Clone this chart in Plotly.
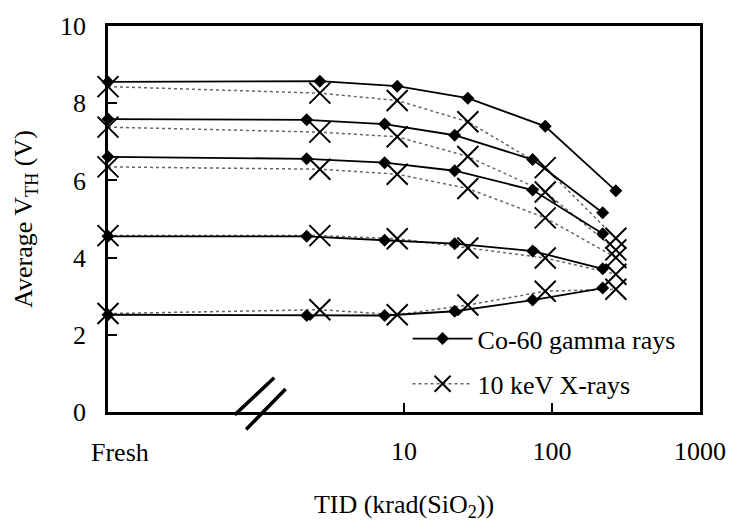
import math
import plotly.graph_objects as go

# ---------------- data ----------------
fresh_dose = 0.1  # "Fresh" plotted at the left edge of the log axis
co60_dose_s1 = [2.7, 9, 27, 90, 270]
co60_dose = [2.2, 7.4, 22, 74, 220]
xray_dose = [2.7, 9, 27, 90, 270]

co60_s1 = [8.55, 8.57, 8.44, 8.13, 7.40, 5.73]
co60_s2 = [7.59, 7.57, 7.46, 7.17, 6.54, 5.16]
co60_s3 = [6.61, 6.56, 6.46, 6.25, 5.75, 4.62]
co60_s4 = [4.55, 4.55, 4.45, 4.36, 4.17, 3.71]
co60_s5 = [2.52, 2.50, 2.50, 2.61, 2.90, 3.21]

xray_s1 = [8.43, 8.26, 8.07, 7.52, 6.33, 4.50]
xray_s2 = [7.38, 7.25, 7.13, 6.62, 5.70, 4.20]
xray_s3 = [6.35, 6.29, 6.16, 5.79, 5.03, 4.00]
xray_s4 = [4.57, 4.57, 4.49, 4.25, 3.99, 3.57]
xray_s5 = [2.55, 2.65, 2.52, 2.77, 3.13, 3.18]

x_ticks = [10, 100, 1000]
x_ticktext = ["10", "100", "1000"]
y_ticks = [0, 2, 4, 6, 8, 10]

legend_co60 = "Co-60 gamma rays"
legend_xray = "10 keV X-rays"

FONT = "Liberation Serif, Times New Roman, DejaVu Serif, serif"

fig = go.Figure()

co60_sets = [(co60_dose_s1, co60_s1), (co60_dose, co60_s2), (co60_dose, co60_s3),
             (co60_dose, co60_s4), (co60_dose, co60_s5)]
xray_sets = [xray_s1, xray_s2, xray_s3, xray_s4, xray_s5]

for i, ys in enumerate(xray_sets):
    fig.add_trace(go.Scatter(
        x=[fresh_dose] + xray_dose, y=ys, mode="lines+markers",
        name=legend_xray, legend="legend2", legendgroup="xray", showlegend=(i == 0),
        line=dict(color="#666666", width=1.5, dash="dot"),
        marker=dict(symbol="x-thin-open", size=21, color="black",
                    line=dict(color="black", width=2)),
        cliponaxis=False,
    ))

for i, (dx, ys) in enumerate(co60_sets):
    fig.add_trace(go.Scatter(
        x=[fresh_dose] + dx, y=ys, mode="lines+markers",
        name=legend_co60, legend="legend", legendgroup="co60", showlegend=(i == 0),
        line=dict(color="black", width=1.8),
        marker=dict(symbol="diamond", size=10, color="black"),
        cliponaxis=False,
    ))

fig.update_xaxes(
    type="log", range=[math.log10(fresh_dose), 3],
    tickvals=x_ticks, ticktext=x_ticktext,
    ticks="inside", ticklen=9, tickwidth=2, tickcolor="black",
    showline=True, linewidth=2.5, linecolor="black", mirror=True,
    showgrid=False, zeroline=False, ticklabelstandoff=14,
    tickfont=dict(family=FONT, size=26, color="black"),
    title=dict(text="TID (krad(SiO<sub>2</sub>))", standoff=30,
               font=dict(family=FONT, size=26, color="black")),
)
fig.update_yaxes(
    range=[0, 10], tickvals=y_ticks,
    ticks="inside", ticklen=9, tickwidth=2, tickcolor="black",
    showline=True, linewidth=2.5, linecolor="black", mirror=True,
    showgrid=False, zeroline=False, ticklabelstandoff=14,
    tickfont=dict(family=FONT, size=26, color="black"),
    title=dict(text="Average V<sub>TH</sub> (V)", standoff=20,
               font=dict(family=FONT, size=26, color="black")),
)

# "Fresh" category label under the left edge
fig.add_annotation(text="Fresh", x=math.log10(fresh_dose), xref="x", y=0, yref="paper",
                   xshift=12, yshift=-40, yanchor="middle", showarrow=False,
                   font=dict(family=FONT, size=26, color="black"))

# axis break marks
for (x0, y0, x1, y1) in [(0.214, -0.0075, 0.2807, 0.0887), (0.2333, -0.0452, 0.30, 0.0595)]:
    fig.add_shape(type="line", xref="paper", yref="paper", x0=x0, y0=y0, x1=x1, y1=y1,
                  line=dict(color="black", width=3.5))

legend_common = dict(xanchor="left", yanchor="middle", bgcolor="rgba(0,0,0,0)",
                     itemwidth=60, font=dict(family=FONT, size=26, color="black"))
fig.update_layout(
    width=738, height=529,
    margin=dict(l=108, r=30, t=14, b=117),
    paper_bgcolor="white", plot_bgcolor="white",
    font=dict(family=FONT, size=26, color="black"),
    legend=dict(x=0.506, y=0.19, **legend_common),
    legend2=dict(x=0.506, y=0.073, **legend_common),
)

fig.write_html("out.html")
